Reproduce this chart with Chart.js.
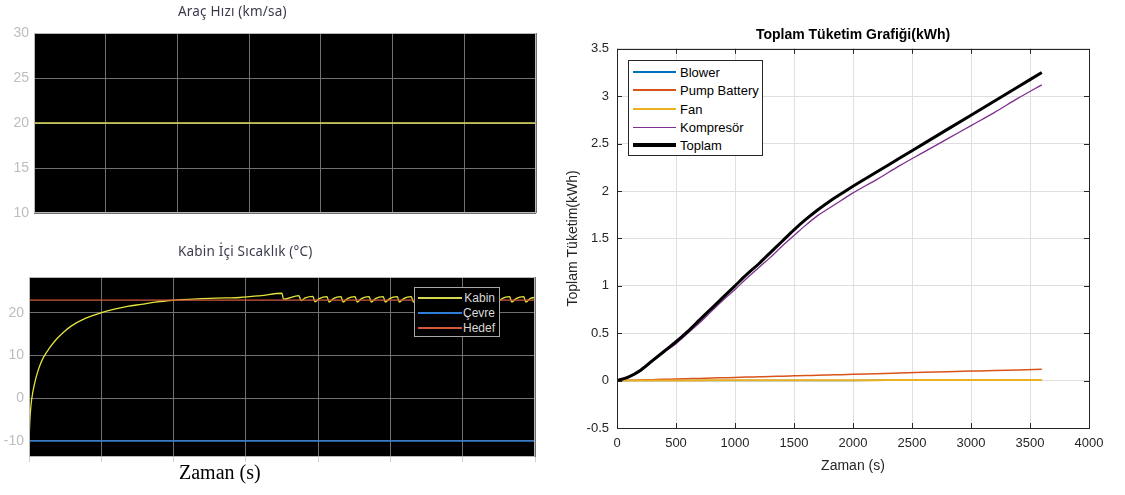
<!DOCTYPE html>
<html>
<head>
<meta charset="utf-8">
<script src="https://cdn.jsdelivr.net/npm/chart.js@4.4.1/dist/chart.umd.min.js"></script>
<style>
  body { margin: 0; background: #fff; width: 1125px; height: 495px; position: relative; overflow: hidden; font-family: "Liberation Sans", Arial, sans-serif; }
  .wrap { position: absolute; }
  .scope-title { position: absolute; font-family: "Noto Sans", "Open Sans", sans-serif; font-size: 13.5px; letter-spacing: 0.2px; line-height: 17px; color: #3b3b4f; white-space: nowrap; }
  .legend { position: absolute; box-sizing: border-box; }
  .legend .row { position: absolute; display: flex; align-items: center; white-space: nowrap; }
  .legend .swatch { display: inline-block; }
</style>
</head>
<body>
<div class="wrap" style="left:0;top:0;width:560px;height:230px"><canvas id="speedChart"></canvas></div>
<div class="wrap" style="left:0;top:230px;width:560px;height:245px"><canvas id="cabinChart"></canvas></div>
<div class="wrap" style="left:560px;top:0;width:565px;height:495px"><canvas id="energyChart"></canvas></div>

<div class="scope-title" style="left:178px;top:3px">Araç Hızı (km/sa)</div>
<div class="scope-title" style="left:178px;top:243px">Kabin İçi Sıcaklık (°C)</div>
<div id="cabinLegend" class="legend" style="left:414px;top:287px;width:86px;height:50px;background:#000;border:1px solid #a8a8a8"></div>
<div id="energyLegend" class="legend" style="left:628px;top:60px;width:135px;height:96px;background:#fff;border:1px solid #262626"></div>
<div style="position:absolute;left:179px;top:461px;font-family:'Liberation Serif','Times New Roman',serif;font-size:20px;line-height:23px;color:#000">Zaman (s)</div>

<script>
// Araç hızı (km/sa)
const speedTime = [0, 3600];
const speedValue = [20, 20];

// Kabin içi sıcaklık (°C)
const kabinTime = [0, 5, 10, 20, 40, 60, 80, 100, 150, 200,
  250, 300, 400, 500, 600, 700, 800, 900, 1000, 1200,
  1400, 1500, 1650, 1800, 1810, 1920, 1935,
  1965, 2020, 2035,
  2065, 2120, 2135, 2165, 2220, 2235, 2265, 2320, 2335,
  2365, 2420, 2435, 2465, 2520, 2535, 2565, 2620, 2635,
  2665, 2720, 2735, 2765, 2820, 2835, 2865, 2920, 2935,
  2965, 3020, 3035, 3065, 3120, 3135, 3165, 3220, 3235,
  3265, 3320, 3335, 3365, 3420, 3435, 3465, 3520, 3535,
  3565, 3600];
const kabinTemp = [-10, -6, -3.2, 0, 3.5, 6, 7.9, 9.4, 12, 14,
  15.6, 16.9, 18.7, 19.9, 20.8, 21.5, 22, 22.5, 22.9, 23.3,
  23.5, 23.6, 24.05, 24.6, 23.2, 24.05, 22.9,
  23.5, 23.85, 22.6,
  23.35, 23.8, 22.5, 23.35, 23.8, 22.5, 23.35, 23.8, 22.5,
  23.35, 23.8, 22.5, 23.35, 23.8, 22.5, 23.35, 23.8, 22.5,
  23.35, 23.8, 22.5, 23.35, 23.8, 22.5, 23.35, 23.8, 22.5,
  23.35, 23.8, 22.5, 23.35, 23.8, 22.5, 23.35, 23.8, 22.5,
  23.35, 23.8, 22.5, 23.35, 23.8, 22.5, 23.35, 23.8, 22.5,
  23.35, 23.6];
const cevreTime = [0, 3600];
const cevreTemp = [-10, -10];
const hedefTemp = [23, 23];

// Toplam tüketim (kWh)
const energyTime = [0, 100, 200, 300, 400, 500, 600, 700, 800, 900,
  1000, 1100, 1200, 1300, 1400, 1500, 1600, 1700, 1800, 1900,
  2000, 2200, 2400, 2600, 2800, 3000, 3200, 3400, 3600];
const blower = [0, 0.0002, 0.0003, 0.0005, 0.0006, 0.0008, 0.0009, 0.001, 0.0011, 0.0012,
  0.0013, 0.0014, 0.0015, 0.0016, 0.0017, 0.0018, 0.0019, 0.002, 0.0021, 0.0022,
  0.0023, 0.0024, 0.0025, 0.0026, 0.0027, 0.0028, 0.0029, 0.003, 0.003];
const pumpBattery = [0, 0.003, 0.007, 0.01, 0.013, 0.017, 0.02, 0.023, 0.027, 0.03,
  0.033, 0.037, 0.04, 0.043, 0.047, 0.05, 0.053, 0.057, 0.06, 0.063,
  0.067, 0.073, 0.08, 0.087, 0.093, 0.1, 0.107, 0.113, 0.12];
const fan = [0, 0.001, 0.001, 0.001, 0.002, 0.002, 0.002, 0.002, 0.003, 0.003,
  0.003, 0.003, 0.003, 0.004, 0.004, 0.004, 0.004, 0.005, 0.005, 0.005,
  0.005, 0.005, 0.006, 0.006, 0.006, 0.006, 0.007, 0.007, 0.007];
const kompresor = [0, 0.035, 0.1, 0.2, 0.3, 0.39, 0.5, 0.61, 0.73, 0.85,
  0.96, 1.08, 1.19, 1.3, 1.42, 1.53, 1.64, 1.74, 1.82, 1.9,
  1.98, 2.12, 2.27, 2.41, 2.55, 2.69, 2.83, 2.98, 3.12];
const toplam = [0, 0.04, 0.11, 0.21, 0.31, 0.41, 0.52, 0.64, 0.76, 0.88,
  1.0, 1.12, 1.23, 1.35, 1.47, 1.59, 1.7, 1.8, 1.89, 1.97,
  2.05, 2.2, 2.35, 2.5, 2.65, 2.8, 2.95, 3.1, 3.25];

const xy = (xs, ys) => xs.map((x, i) => ({ x, y: ys[i] }));

// black scope background + light frame
const scopeBg = {
  id: 'scopeBg',
  beforeDraw(chart) {
    const { ctx, chartArea: a } = chart;
    ctx.save();
    ctx.fillStyle = '#000';
    ctx.fillRect(a.left, a.top, a.width, a.height);
    ctx.restore();
  },
  afterDraw(chart) {
    const { ctx, chartArea: a } = chart;
    ctx.save();
    ctx.strokeStyle = '#b8b8b8';
    ctx.lineWidth = 1;
    ctx.strokeRect(Math.round(a.left) + 0.5, Math.round(a.top) + 0.5, Math.round(a.width) - 1, Math.round(a.height) - 1);
    ctx.restore();
  }
};

// matlab style box with inner ticks
const matlabBox = {
  id: 'matlabBox',
  afterDraw(chart) {
    const { ctx, chartArea: a, scales: { x, y } } = chart;
    ctx.save();
    ctx.strokeStyle = '#262626';
    ctx.lineWidth = 1;
    ctx.beginPath();
    x.ticks.forEach(t => {
      const px = Math.round(x.getPixelForValue(t.value)) + 0.5;
      ctx.moveTo(px, a.bottom); ctx.lineTo(px, a.bottom - 5);
      ctx.moveTo(px, a.top); ctx.lineTo(px, a.top + 5);
    });
    y.ticks.forEach(t => {
      const py = Math.round(y.getPixelForValue(t.value)) + 0.5;
      ctx.moveTo(a.left, py); ctx.lineTo(a.left + 5, py);
      ctx.moveTo(a.right, py); ctx.lineTo(a.right - 5, py);
    });
    ctx.stroke();
    ctx.strokeRect(Math.round(a.left) + 0.5, Math.round(a.top) + 0.5, Math.round(a.width), Math.round(a.height));
    ctx.restore();
  }
};

function scopeScales(yMin, yMax, yStep, yWidth, xTickLen) {
  return {
    x: {
      type: 'linear', min: 0, max: 3600,
      ticks: { display: false, stepSize: 500, includeBounds: false },
      grid: { color: '#707070', drawTicks: xTickLen > 0, tickLength: xTickLen, tickColor: '#d0d0d0' },
      border: { display: false },
      afterFit(s) { s.height = 0; }
    },
    y: {
      min: yMin, max: yMax,
      ticks: { stepSize: yStep, includeBounds: false, color: '#bdbdbd', padding: 5,
        font: { family: 'Liberation Sans', size: 14 } },
      grid: { color: '#707070', drawTicks: false },
      border: { display: false },
      afterFit(s) { s.width = yWidth; }
    }
  };
}

const baseOpts = {
  responsive: true,
  maintainAspectRatio: false,
  animation: false,
  devicePixelRatio: 1,
  elements: { point: { radius: 0 } }
};

new Chart(document.getElementById('speedChart'), {
  type: 'line',
  data: {
    datasets: [{ label: 'Hız', data: xy(speedTime, speedValue), borderColor: '#dcdc5a', borderWidth: 1.5 }]
  },
  options: {
    ...baseOpts,
    layout: { padding: { top: 33, right: 24, bottom: 17, left: 0 } },
    plugins: { legend: { display: false }, tooltip: { enabled: false } },
    scales: scopeScales(10, 30, 5, 34, 0)
  },
  plugins: [scopeBg]
});

new Chart(document.getElementById('cabinChart'), {
  type: 'line',
  data: {
    datasets: [
      { label: 'Hedef', data: xy(cevreTime, hedefTemp), borderColor: '#d2583a', borderWidth: 1.3, order: 0 },
      { label: 'Çevre', data: xy(cevreTime, cevreTemp), borderColor: '#2f7fd6', borderWidth: 1.3, order: 1 },
      { label: 'Kabin', data: xy(kabinTime, kabinTemp), borderColor: '#e4e43c', borderWidth: 1.3, cubicInterpolationMode: 'monotone', order: 2 }
    ]
  },
  options: {
    ...baseOpts,
    layout: { padding: { top: 47, right: 25, bottom: 18, left: 0 } },
    plugins: { legend: { display: false }, tooltip: { enabled: false } },
    scales: scopeScales(-13.75, 28.4, 10, 29, 5)
  },
  plugins: [scopeBg]
});

const energySeries = [
  { label: 'Blower', data: blower, color: '#0072BD', width: 1.5, legendWidth: 2 },
  { label: 'Pump Battery', data: pumpBattery, color: '#D95319', width: 1.5, legendWidth: 2 },
  { label: 'Fan', data: fan, color: '#EDB120', width: 2, legendWidth: 2 },
  { label: 'Kompresör', data: kompresor, color: '#7E2F8E', width: 1.3, legendWidth: 1 },
  { label: 'Toplam', data: toplam, color: '#000000', width: 3, legendWidth: 4 }
];

const matlabFont = { family: 'Liberation Sans', size: 13 };

new Chart(document.getElementById('energyChart'), {
  type: 'line',
  data: {
    datasets: energySeries.map((s, i) => ({
      label: s.label,
      data: xy(energyTime, s.data),
      borderColor: s.color,
      borderWidth: s.width,
      cubicInterpolationMode: 'monotone',
      order: energySeries.length - i
    }))
  },
  options: {
    ...baseOpts,
    layout: { padding: { top: 0, right: 36, bottom: 0, left: 0 } },
    plugins: {
      legend: { display: false },
      tooltip: { enabled: false },
      title: {
        display: true, fullSize: false,
        text: 'Toplam Tüketim Grafiği(kWh)',
        color: '#000',
        font: { family: 'Liberation Sans', size: 14, weight: 'bold' },
        padding: { top: 27, bottom: 5 }
      }
    },
    scales: {
      x: {
        type: 'linear', min: 0, max: 4000,
        ticks: { stepSize: 500, color: '#262626', font: matlabFont, padding: 8, callback: v => String(v) },
        grid: { color: '#dfdfdf', drawTicks: false },
        border: { display: false },
        title: { display: true, text: 'Zaman (s)', color: '#262626', font: { family: 'Liberation Sans', size: 14 }, padding: { top: 0, bottom: 20 } },
        afterFit(s) { s.height = 67; }
      },
      y: {
        min: -0.5, max: 3.5,
        ticks: { stepSize: 0.5, color: '#262626', font: matlabFont, padding: 8, callback: v => String(v) },
        grid: { color: '#dfdfdf', drawTicks: false },
        border: { display: false },
        title: { display: true, text: 'Toplam Tüketim(kWh)', color: '#262626', font: { family: 'Liberation Sans', size: 14 }, padding: { top: 5, bottom: 0 } },
        afterFit(s) { s.width = 57; }
      }
    }
  },
  plugins: [matlabBox]
});

// legends
const cabinLegend = [
  { label: 'Kabin', color: '#d4d84a' },
  { label: 'Çevre', color: '#2f7fd6' },
  { label: 'Hedef', color: '#d2583a' }
];
const cabinEl = document.getElementById('cabinLegend');
cabinLegend.forEach((item, i) => {
  const row = document.createElement('div');
  row.className = 'row';
  row.style.cssText = `left:3px;right:4px;top:${2 + i * 15}px;height:15px;justify-content:space-between;font-family:'Liberation Sans',Arial,sans-serif;font-size:12px;color:#d8d8d8`;
  row.innerHTML = `<span class="swatch" style="width:44px;height:2px;background:${item.color}"></span><span>${item.label}</span>`;
  cabinEl.appendChild(row);
});

const energyEl = document.getElementById('energyLegend');
energySeries.forEach((s, i) => {
  const row = document.createElement('div');
  row.className = 'row';
  row.style.cssText = `left:4px;top:${2 + Math.round(i * 18.3)}px;height:18px;font-size:13px;color:#000`;
  row.innerHTML = `<span class="swatch" style="width:43px;height:${s.legendWidth}px;background:${s.color};margin-right:4px"></span><span>${s.label}</span>`;
  energyEl.appendChild(row);
});
</script>
</body>
</html>
